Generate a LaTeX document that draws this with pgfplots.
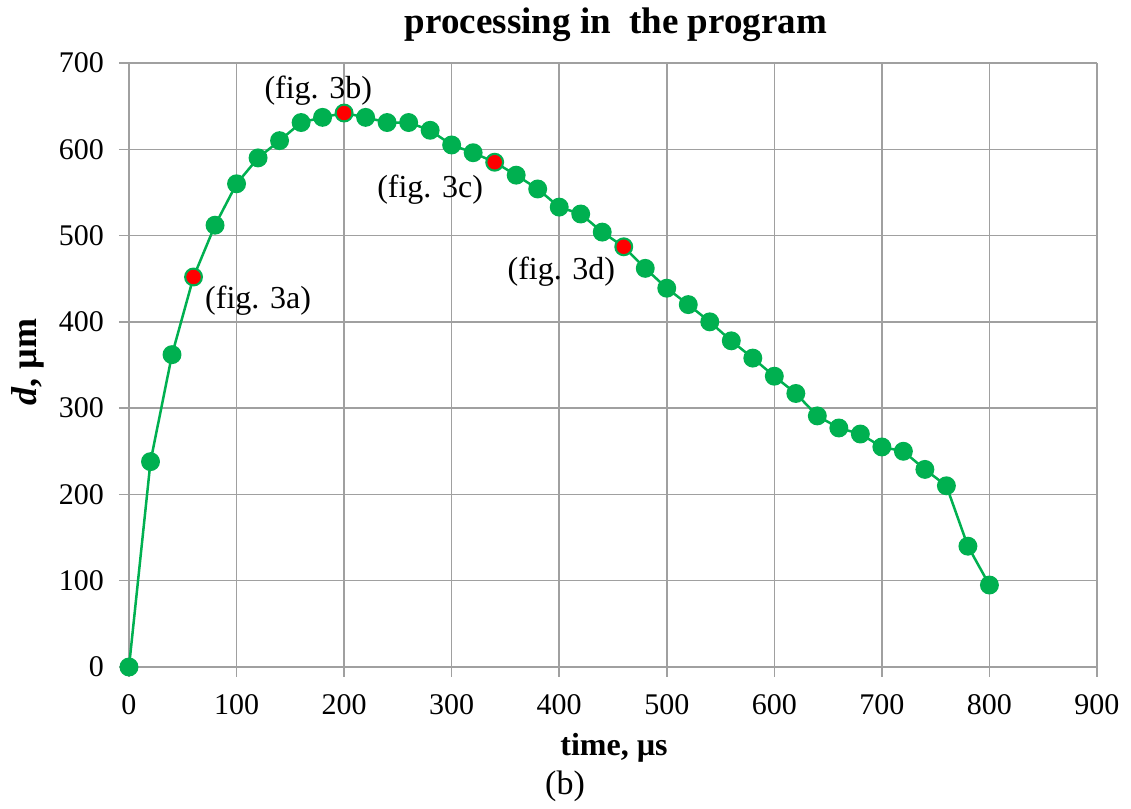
\documentclass[border=0pt]{standalone}
\usepackage{fontspec}
\setmainfont{Liberation Serif}
\usepackage{pgfplots}
\pgfplotsset{compat=1.18}
\definecolor{ggreen}{HTML}{00B050}
\definecolor{ggrid}{HTML}{A0A0A0}
\begin{document}
\begin{tikzpicture}
\begin{axis}[
  at={(0,0)}, anchor=origin,
  scale only axis, width=484pt, height=302pt,
  xmin=0, xmax=900, ymin=0, ymax=700,
  xtick={0,100,...,900}, ytick={0,100,...,700},
  grid=major,
  grid style={ggrid, line width=0.75pt},
  axis line style={ggrid, line width=0.75pt},
  tick style={ggrid, line width=0.75pt},
  tick align=outside, major tick length=5pt,
  axis x line*=bottom, axis y line*=left,
  /pgf/number format/assume math mode=true,
  ticklabel style={font=\fontsize{15}{17}\selectfont, text=black},
  xticklabel style={yshift=-5pt},
  yticklabel style={xshift=-4pt},
  clip=false,
]
\addplot[color=ggreen, line width=1.25pt, mark=*, mark size=4.1pt, mark options={fill=ggreen, draw=ggreen}] coordinates {
(0,0) (20,238) (40,362) (60,452) (80,512) (100,560) (120,590) (140,610)
(160,631) (180,637) (200,642) (220,637) (240,631) (260,631) (280,622)
(300,605) (320,596) (340,585) (360,570) (380,554) (400,533) (420,525)
(440,504) (460,487) (480,462) (500,439) (520,420) (540,400) (560,378)
(580,358) (600,337) (620,317) (640,291) (660,277) (680,270) (700,255)
(720,250) (740,229) (760,210) (780,140) (800,95)
};
\addplot[only marks, mark=*, mark size=3.4pt, mark options={fill=red, draw=red}] coordinates {
(60,452) (200,642) (340,585) (460,487)
};
\node[font=\fontsize{16}{18}\selectfont] at (axis cs:120,425) {(fig. 3a)};
\node[font=\fontsize{16}{18}\selectfont] at (axis cs:176,668) {(fig. 3b)};
\node[font=\fontsize{16}{18}\selectfont] at (axis cs:280,553) {(fig. 3c)};
\node[font=\fontsize{16}{18}\selectfont] at (axis cs:402,458) {(fig. 3d)};
\end{axis}
\node[font=\fontsize{18.5}{20}\selectfont\bfseries] at (243.5pt,321pt) {processing in\ \ the program};
\node[font=\fontsize{16}{18}\selectfont\bfseries] at (242.5pt,-40.5pt) {time, µs};
\node[font=\fontsize{17}{19}\selectfont] at (218pt,-59.5pt) {(b)};
\node[font=\fontsize{18}{20}\selectfont\bfseries, rotate=90] at (-50.5pt,152.5pt) {\textit{d}, µm};
\path[use as bounding box] (-64.5pt,-66.5pt) rectangle (501pt,333.5pt);
\end{tikzpicture}
\end{document}
